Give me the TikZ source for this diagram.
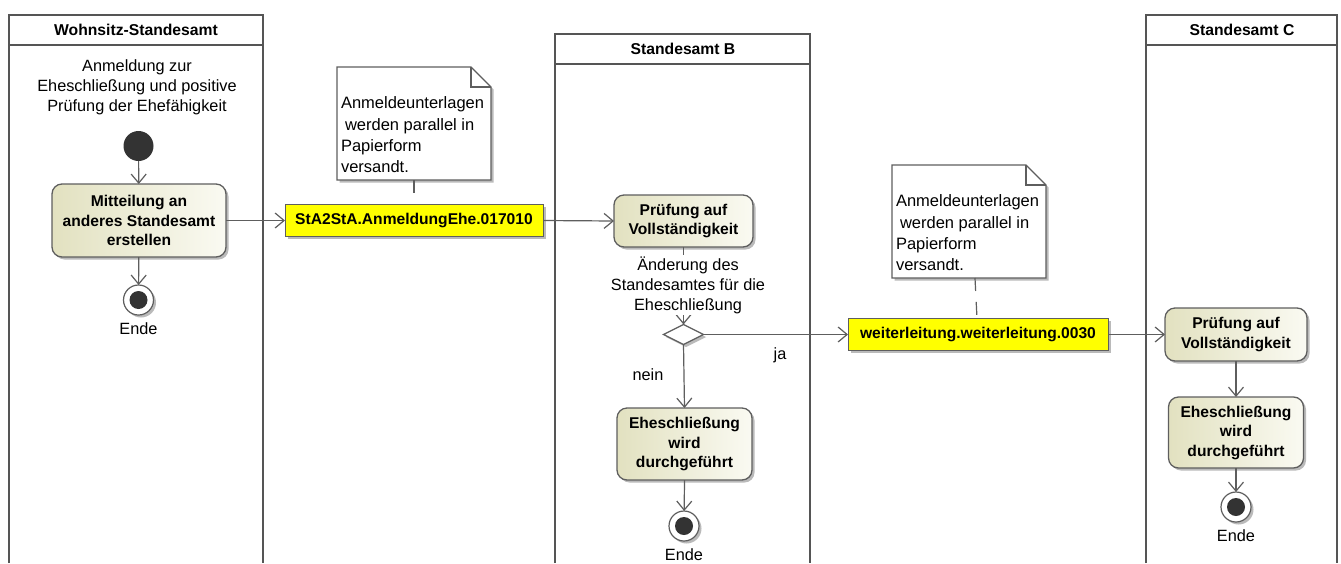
\documentclass[tikz,border=0pt]{standalone}
\usepackage{fontspec}
\setmainfont{Liberation Sans}
\usetikzlibrary{arrows.meta,shapes.geometric,shadows,calc}
\definecolor{lanec}{HTML}{555555}
\definecolor{linec}{HTML}{5E5E5E}
\definecolor{actc}{HTML}{E2E1C0}
\definecolor{actr}{HTML}{FAFAF2}
\definecolor{yel}{HTML}{FFFF00}
\definecolor{startc}{HTML}{333333}
\begin{document}
\begin{tikzpicture}[x=1pt,y=-1pt,
  every node/.style={inner sep=0pt, outer sep=0pt},
  reg/.style={font=\fontsize{16.3}{20}\selectfont},
  lane/.style={draw=lanec, line width=2pt},
  lanetitle/.style={font=\fontsize{15.7}{19}\selectfont\bfseries},
  shadowed/.style={drop shadow={shadow xshift=2.5pt, shadow yshift=-2.5pt, fill=black!60, opacity=0.45}},
  act/.style={shadowed, draw=linec, line width=1.3pt, rounded corners=10pt, left color=actc, right color=actr, align=center, font=\fontsize{15.6}{19.5}\selectfont\bfseries},
  msg/.style={shadowed, draw=linec, line width=1pt, fill=yel, font=\fontsize{15.6}{19}\selectfont\bfseries, minimum height=32pt},
  flow/.style={draw=linec, line width=1.2pt, -{Straight Barb[length=9pt,width=15pt]}},
  anchorline/.style={draw=linec, line width=1.2pt, dash pattern=on 13pt off 11pt},
  noteline/.style={draw=linec, line width=1.2pt, fill=white},
  notebox/.style={minimum width=154pt, minimum height=113pt},
  notetxt/.style={font=\fontsize{16.5}{21.3}\selectfont, align=left, anchor=west},
  startnode/.style={circle, fill=startc, minimum size=30pt},
  endnode/.style={shadowed, circle, draw=linec, line width=1.2pt, fill=white, minimum size=30pt, path picture={\fill[startc] (path picture bounding box.center) circle (9pt);}},
  decision/.style={shadowed, diamond, draw=linec, line width=1.2pt, fill=white, minimum width=40pt, minimum height=20pt, aspect=2},
]
\useasboundingbox (0,0) rectangle (1341,563);
\fill[white] (0,0) rectangle (1341,563);

% swimlanes
\draw[lane] (9,563) -- (9,15) -- (263,15) -- (263,563);
\draw[lane] (9,45) -- (263,45);
\node[lanetitle] (t1) at (136,29.5) {Wohnsitz-Standesamt};
\draw[lane] (555,563) -- (555,34) -- (810,34) -- (810,563);
\draw[lane] (555,64) -- (810,64);
\node[lanetitle] (t2) at (683,48.5) {Standesamt B};
\draw[lane] (1146,563) -- (1146,15) -- (1337,15) -- (1337,563);
\draw[lane] (1146,45) -- (1337,45);
\node[lanetitle] (t3) at (1242,29.5) {Standesamt C};

% lane 1
\node[reg, align=center] (intro) at (137,87) {Anmeldung zur\\Eheschließung und positive\\Prüfung der Ehefähigkeit};
\node[startnode] (s) at (138.5,146) {};
\node[act, minimum width=174pt, minimum height=73pt] (mit) at (139,220.5) {Mitteilung an\\anderes Standesamt\\erstellen};
\node[endnode] (e1) at (138.5,300) {};
\node[reg] (e1l) at (138.5,329) {Ende};

% message 1 and note 1
\node[msg, minimum width=258pt] (m1) at (414,220.5) {StA2StA.AnmeldungEhe.017010};
\node[notebox] (n1) at (414,123.5) {};
\draw[noteline, shadowed] (n1.north west) -- ([xshift=-20pt]n1.north east) -- ([yshift=-20pt]n1.north east) -- (n1.south east) -- (n1.south west) -- cycle;
\draw[noteline, fill=none] ([xshift=-20pt]n1.north east) |- ([yshift=-20pt]n1.north east);
\node[notetxt] (n1t) at ($(n1.west)+(4,11.5)$) {Anmeldeunterlagen\\\hspace*{4pt}werden parallel in\\Papierform\\versandt.};

% lane B
\node[act, minimum width=139pt, minimum height=52pt] (pb) at (683.5,221) {Prüfung auf\\Vollständigkeit};
\node[decision] (d) at (683.5,334.5) {};
\node[act, minimum width=135pt, minimum height=72pt] (eb) at (684.5,444) {Eheschließung\\wird\\durchgeführt};
\node[endnode] (e2) at (684,526) {};
\node[reg] (e2l) at (684,555) {Ende};
\node[reg] (nein) at (648,375) {nein};
\node[reg] (ja) at (780,355) {ja};

% message 2 and note 2
\node[msg, minimum width=260pt] (m2) at (978,334.5) {weiterleitung.weiterleitung.0030};
\node[notebox] (n2) at (969,221.5) {};
\draw[noteline, shadowed] (n2.north west) -- ([xshift=-20pt]n2.north east) -- ([yshift=-20pt]n2.north east) -- (n2.south east) -- (n2.south west) -- cycle;
\draw[noteline, fill=none] ([xshift=-20pt]n2.north east) |- ([yshift=-20pt]n2.north east);
\node[notetxt] (n2t) at ($(n2.west)+(4,11.5)$) {Anmeldeunterlagen\\\hspace*{4pt}werden parallel in\\Papierform\\versandt.};

% lane C
\node[act, minimum width=142pt, minimum height=53pt] (pc) at (1236,334.5) {Prüfung auf\\Vollständigkeit};
\node[act, minimum width=135pt, minimum height=71pt] (ec) at (1236,432.5) {Eheschließung\\wird\\durchgeführt};
\node[endnode] (e3) at (1236,507) {};
\node[reg] (e3l) at (1236,536) {Ende};

% connectors
\draw[flow] (s) -- (mit);
\draw[flow] (mit) -- (e1);
\draw[flow] (mit.east) -- (m1.west);
\draw[flow] (m1.east) -- (pb.west);
\draw[anchorline] (n1.south) -- (m1.north);
\draw[flow] (pb.south) -- (d.north);
\draw[flow] (d.south) -- (eb.north);
\draw[flow] (eb.south) -- (e2);
\draw[flow] (d.east) -- (m2.west);
\draw[anchorline] ([xshift=6pt]n2.south) -- ([xshift=-1pt]m2.north);
\draw[flow] (m2.east) -- (pc.west);
\draw[flow] (pc.south) -- (ec.north);
\draw[flow] (ec.south) -- (e3);

% guard label on top of the flow line
\node[reg, align=center, fill=white, inner sep=1pt] (guard) at (688,285) {Änderung des\\Standesamtes für die\\Eheschließung};
\end{tikzpicture}
\end{document}
